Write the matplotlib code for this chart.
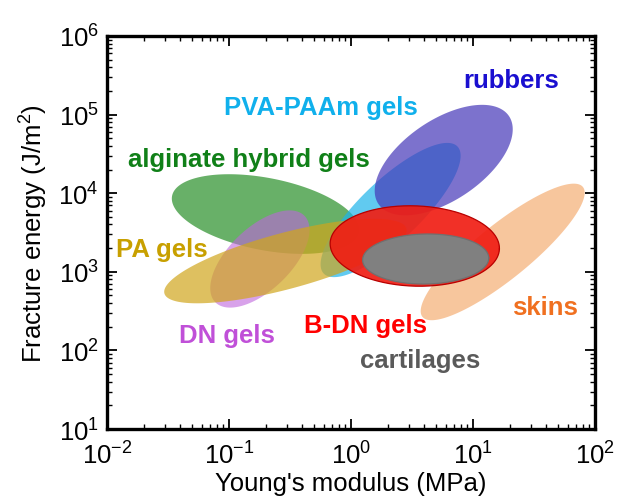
import numpy as np
import matplotlib
matplotlib.use("Agg")
import matplotlib.pyplot as plt
from matplotlib.ticker import LogLocator, NullFormatter

plt.rcParams['font.family'] = ['Liberation Sans', 'DejaVu Sans']
plt.rcParams['mathtext.fontset'] = 'custom'
plt.rcParams['mathtext.rm'] = 'Liberation Sans'
plt.rcParams['mathtext.it'] = 'Liberation Sans:italic'
plt.rcParams['mathtext.bf'] = 'Liberation Sans:bold'
plt.rcParams['axes.unicode_minus'] = False

# Material families: centre (modulus MPa, fracture energy J/m^2),
# semi-axes (in decades of modulus) and tilt as seen on the plot (deg)
materials = ["alginate hybrid gels", "DN gels", "PVA-PAAm gels", "PA gels",
             "rubbers", "skins", "B-DN gels", "cartilages"]
center_modulus = [0.199, 0.179, 2.11, 0.290, 5.75, 17.5, 3.33, 4.09]
center_energy = [5430, 1455, 6110, 1371, 26400, 1790, 2130, 1455]
semi_major = [0.780, 0.509, 0.756, 1.027, 0.645, 0.846, 0.694, 0.517]
semi_minor = [0.296, 0.255, 0.246, 0.230, 0.330, 0.222, 0.329, 0.205]
tilt_deg = [-11, 44, 43.5, 15, 34, 39, -2, 1]
fill_colors = ["#369636", "#BE64DC", "#1EB4EB", "#D0A61C",
               "#4537B8", "#F5AE74", "#F01E14", "#808080"]
fill_alpha = [0.75, 0.6, 0.7, 0.7, 0.7, 0.7, 0.92, 1.0]
edge_colors = ["none", "none", "none", "none", "none", "none", "#B80000", "#707070"]

# Label text, anchor (modulus, energy) and colour
label_text = ["rubbers", "PVA-PAAm gels", "alginate hybrid gels", "PA gels",
              "DN gels", "B-DN gels", "cartilages", "skins"]
label_modulus = [20.4, 0.5616, 0.1466, 0.02829, 0.09674, 1.315, 3.652, 38.85]
label_energy = [2.244e5, 1.018e5, 2.22e4, 1589, 128, 171, 61.5, 290]
label_colors = ["#1A0FD0", "#10B0EC", "#108018", "#C8A000",
                "#C050D8", "#FF0000", "#5A5A5A", "#F07020"]

x_limits = (1e-2, 1e2)
y_limits = (1e1, 1e6)

fig = plt.figure(figsize=(6.19, 5.02), dpi=100)
ax = fig.add_axes([0.1729, 0.1434, 0.7884, 0.7829])
ax.set_xscale('log')
ax.set_yscale('log')
ax.set_xlim(*x_limits)
ax.set_ylim(*y_limits)

# ratio of pixels per decade (y over x) so ellipses keep their on-screen shape
bbox = ax.get_window_extent()
x_dec = np.log10(x_limits[1] / x_limits[0])
y_dec = np.log10(y_limits[1] / y_limits[0])
k = (bbox.height / y_dec) / (bbox.width / x_dec)

t = np.linspace(0, 2 * np.pi, 400)
for E, G, a, b, ang, fc, al, ec in zip(center_modulus, center_energy, semi_major,
                                       semi_minor, tilt_deg, fill_colors,
                                       fill_alpha, edge_colors):
    th = np.deg2rad(ang)
    u = a * np.cos(t)
    v = b * np.sin(t)
    dx = u * np.cos(th) - v * np.sin(th)
    dy = u * np.sin(th) + v * np.cos(th)
    xs = 10 ** (np.log10(E) + dx)
    ys = 10 ** (np.log10(G) + dy / k)
    ax.fill(xs, ys, facecolor=fc, alpha=al, edgecolor='none', zorder=2)
    if ec != "none":
        ax.plot(xs, ys, color=ec, lw=0.9, zorder=2)

for txt, xm, ym, c in zip(label_text, label_modulus, label_energy, label_colors):
    ax.text(xm, ym, txt, color=c, fontsize=18.5, fontweight='bold',
            ha='center', va='baseline', zorder=5)

for s in ax.spines.values():
    s.set_linewidth(2.4)

ax.xaxis.set_major_locator(LogLocator(base=10, numticks=10))
ax.yaxis.set_major_locator(LogLocator(base=10, numticks=10))
ax.xaxis.set_minor_locator(LogLocator(base=10, subs=np.arange(2, 10), numticks=20))
ax.yaxis.set_minor_locator(LogLocator(base=10, subs=np.arange(2, 10), numticks=20))
ax.xaxis.set_minor_formatter(NullFormatter())
ax.yaxis.set_minor_formatter(NullFormatter())
ax.tick_params(which='both', direction='in', top=True, right=True)
ax.tick_params(which='major', length=7, width=1.3, labelsize=18.5, pad=6)
ax.tick_params(axis='x', which='major', pad=9)
ax.tick_params(which='minor', length=3.5, width=1.0)

ax.set_xlabel("Young's modulus (MPa)", fontsize=18.5, labelpad=2)
ax.set_ylabel("Fracture energy (J/m$^2$)", fontsize=18.5, labelpad=6)

fig.savefig("out.png", dpi=100)
